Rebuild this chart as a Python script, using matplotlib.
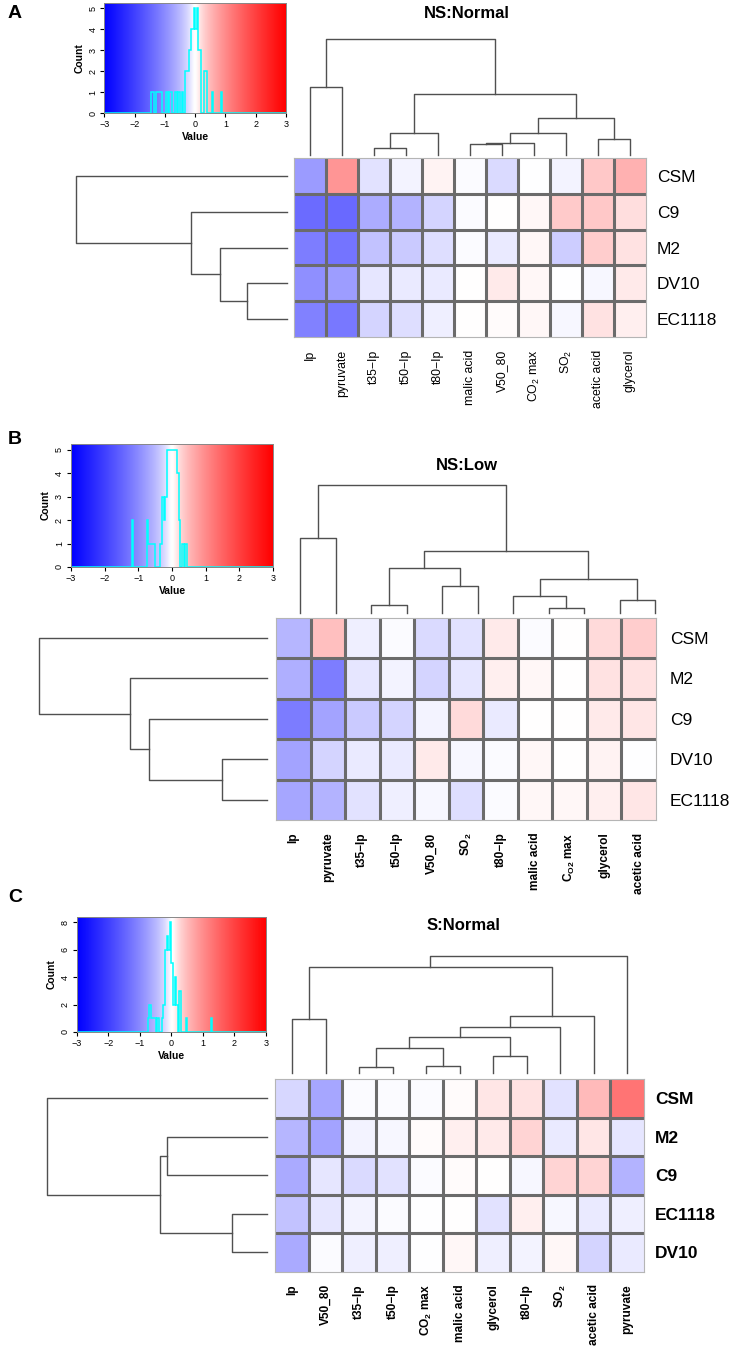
import numpy as np
import matplotlib.pyplot as plt
from matplotlib.colors import ListedColormap

plt.rcParams['font.family'] = ['Liberation Sans', 'DejaVu Sans']
plt.rcParams['mathtext.default'] = 'regular'

W, H = 737, 1350

# ---------------- panel A : NS:Normal ----------------
a_rows = ['CSM', 'C9', 'M2', 'DV10', 'EC1118']
a_cols = ['Ip', 'pyruvate', 't35\u2212Ip', 't50\u2212Ip', 't80\u2212Ip', 'malic acid',
          'V50_80', 'CO$_2$ max', 'SO$_2$', 'acetic acid', 'glycerol']
a_values = [
    [-0.805, 0.88, -0.17, -0.08, 0.08, -0.03, -0.22, -0.01, -0.09, 0.37, 0.57],
    [-1.395, -1.42, -0.62, -0.54, -0.27, -0.045, 0.02, 0.06, 0.34, 0.355, 0.195],
    [-1.155, -1.27, -0.42, -0.34, -0.19, -0.04, -0.13, 0.07, -0.31, 0.305, 0.185],
    [-0.94, -0.79, -0.16, -0.14, -0.12, 0.005, 0.13, 0.055, -0.02, -0.06, 0.14],
    [-1.105, -1.24, -0.26, -0.21, -0.11, 0.008, 0.03, 0.065, -0.07, 0.165, 0.11],
]
# merges: (left, right, height); ids >= n refer to earlier merges
a_col_merges = [(2, 3, 7.3), (5, 6, 10.7), (12, 7, 12.3), (9, 10, 15.7), (11, 4, 21.7),
                (13, 8, 22.3), (16, 14, 37.3), (15, 17, 60.7), (0, 1, 68.3), (19, 18, 115.7)]
a_row_merges = [(3, 4, 40.3), (2, 5, 67.0), (1, 6, 96.3), (0, 7, 211.0)]

# ---------------- panel B : NS:Low ----------------
b_rows = ['CSM', 'M2', 'C9', 'DV10', 'EC1118']
b_cols = ['Ip', 'pyruvate', 't35\u2212Ip', 't50\u2212Ip', 'V50_80', 'SO$_2$', 't80\u2212Ip',
          'malic acid', 'C$_{O2}$ max', 'glycerol', 'acetic acid']
b_values = [
    [-0.52, 0.44, -0.095, -0.045, -0.22, -0.17, 0.12, -0.04, 0.005, 0.23, 0.31],
    [-0.605, -1.155, -0.145, -0.08, -0.26, -0.16, 0.11, 0.07, 0.008, 0.185, 0.175],
    [-1.18, -0.72, -0.34, -0.27, -0.09, 0.22, -0.14, 0.015, 0.01, 0.14, 0.155],
    [-0.72, -0.28, -0.13, -0.12, 0.13, -0.06, -0.03, 0.055, 0.02, 0.08, -0.02],
    [-0.68, -0.56, -0.18, -0.11, -0.07, -0.21, -0.035, 0.06, 0.065, 0.105, 0.16],
]
b_col_merges = [(7, 8, 5.0), (2, 3, 8.3), (9, 10, 13.3), (6, 11, 17.3), (4, 5, 27.3),
                (14, 13, 34.0), (12, 15, 45.0), (17, 16, 62.3), (0, 1, 75.0), (19, 18, 128.3)]
b_row_merges = [(3, 4, 45.3), (2, 5, 118.3), (1, 6, 137.0), (0, 7, 228.0)]

# ---------------- panel C : S:Normal ----------------
c_rows = ['CSM', 'M2', 'C9', 'EC1118', 'DV10']
c_cols = ['Ip', 'V50_80', 't35\u2212Ip', 't50\u2212Ip', 'CO$_2$ max', 'malic acid',
          'glycerol', 't80\u2212Ip', 'SO$_2$', 'acetic acid', 'pyruvate']
c_values = [
    [-0.245, -0.68, -0.045, -0.03, -0.04, 0.045, 0.145, 0.185, -0.17, 0.47, 1.27],
    [-0.52, -0.72, -0.08, -0.07, 0.04, 0.105, 0.135, 0.26, -0.125, 0.16, -0.16],
    [-0.655, -0.16, -0.22, -0.17, -0.035, 0.03, 0.02, -0.055, 0.28, 0.26, -0.56],
    [-0.405, -0.155, -0.08, -0.045, -0.02, 0.02, -0.17, 0.105, -0.07, -0.125, -0.11],
    [-0.645, -0.03, -0.105, -0.105, -0.01, 0.06, -0.11, -0.08, 0.065, -0.27, -0.125],
]
c_col_merges = [(2, 3, 6.3), (4, 5, 7.0), (6, 7, 17.0), (11, 12, 24.7), (14, 13, 35.7),
                (15, 8, 46.3), (16, 9, 57.0), (0, 1, 53.7), (18, 17, 106.3), (19, 10, 117.3)]
c_row_merges = [(1, 2, 100.6), (3, 4, 35.3), (5, 6, 107.3), (0, 7, 220.6)]


def make_cmap(gamma=0.72, soft=0.03):
    # blue - white - red, with a wide white zone around zero
    t = np.linspace(-1, 1, 256)
    s = np.abs(t)
    f = s ** gamma * (1 - np.exp(-s / soft))
    f = f / f.max()
    rgb = np.ones((256, 3))
    neg = t < 0
    rgb[neg, 0] = 1 - f[neg]
    rgb[neg, 1] = 1 - f[neg]
    rgb[~neg, 1] = 1 - f[~neg]
    rgb[~neg, 2] = 1 - f[~neg]
    return ListedColormap(rgb)


CMAP = make_cmap()
LINE = '#505050'


def px_axes(fig, x0, y0, x1, y1):
    return fig.add_axes([x0 / W, 1 - y1 / H, (x1 - x0) / W, (y1 - y0) / H])


def dendro_segments(merges, n):
    pos = list(range(n))
    hts = [0.0] * n
    segs = []
    for a, b, h in merges:
        segs.append(([pos[a], pos[a], pos[b], pos[b]], [hts[a], h, h, hts[b]]))
        pos.append((pos[a] + pos[b]) / 2)
        hts.append(h)
    return segs


def color_key(ax, values):
    edges = np.linspace(-3, 3, 121)
    counts, _ = np.histogram(np.ravel(values), bins=edges)
    top = counts.max() * 1.05
    grad = np.linspace(-3, 3, 256).reshape(1, -1)
    ax.imshow(grad, cmap=CMAP, vmin=-3, vmax=3, extent=(-3, 3, 0, top), aspect='auto')
    ax.stairs(counts, edges, color='cyan', lw=1.1, clip_on=False)
    ax.set_xlim(-3, 3)
    ax.set_ylim(0, top)
    ax.set_xticks(range(-3, 4))
    ax.set_xticklabels([str(v).replace('-', '\u2212') for v in range(-3, 4)])
    step = 1 if counts.max() <= 6 else 2
    ax.set_yticks(np.arange(0, counts.max() + 1, step))
    ax.tick_params(labelsize=6.5, length=3, width=0.8, pad=2)
    for lab in ax.get_yticklabels():
        lab.set_rotation(90)
        lab.set_va('center')
    ax.set_xlabel('Value', fontsize=7.5, fontweight='bold', labelpad=2)
    ax.set_ylabel('Count', fontsize=7.5, fontweight='bold', labelpad=3)
    for s in ax.spines.values():
        s.set_color('#888888')
        s.set_linewidth(0.7)


def heatmap(ax, values, rows, cols, row_bold, col_bold, row_pad, col_pad, col_size):
    data = np.array(values)
    nr, nc = data.shape
    ax.imshow(data, cmap=CMAP, vmin=-3, vmax=3, aspect='auto', interpolation='nearest')
    for i in range(1, nc):
        ax.axvline(i - 0.5, color='#6b6b6b', lw=2.2)
    for j in range(1, nr):
        ax.axhline(j - 0.5, color='#6b6b6b', lw=2.2)
    ax.set_xticks(range(nc))
    ax.set_xticklabels(cols, rotation=90, fontsize=col_size,
                       fontweight='bold' if col_bold else 'normal', va='top')
    ax.yaxis.tick_right()
    ax.set_yticks(range(nr))
    ax.set_yticklabels(rows, fontsize=12.5, fontweight='bold' if row_bold else 'normal')
    ax.tick_params(axis='x', length=0, pad=col_pad)
    ax.tick_params(axis='y', length=0, pad=row_pad)
    for s in ax.spines.values():
        s.set_color('#b5b5b5')
        s.set_linewidth(0.8)


def col_dendro(ax, merges, n):
    for xs, ys in dendro_segments(merges, n):
        ax.plot(xs, ys, color=LINE, lw=1.0, clip_on=False)
    ax.set_xlim(-0.5, n - 0.5)
    ax.set_ylim(0, merges[-1][2])
    ax.axis('off')


def row_dendro(ax, merges, n):
    for xs, ys in dendro_segments(merges, n):
        ax.plot(ys, xs, color=LINE, lw=1.0, clip_on=False)
    ax.set_ylim(n - 0.5, -0.5)
    ax.set_xlim(merges[-1][2], 0)
    ax.axis('off')


panels = [
    dict(letter='A', title='NS:Normal', values=a_values, rows=a_rows, cols=a_cols,
         cm=a_col_merges, rm=a_row_merges, row_bold=False, col_bold=False, col_size=8.8,
         letter_xy=(8, 14), title_xy=(467, 14),
         key=(104.3, 3, 286, 113.3), heat=(294, 158, 646, 337),
         cden=(294, 39.3, 646, 155), rden=(76, 158, 287, 337), row_pad=8, col_pad=9),
    dict(letter='B', title='NS:Low', values=b_values, rows=b_rows, cols=b_cols,
         cm=b_col_merges, rm=b_row_merges, row_bold=False, col_bold=True, col_size=8.6,
         letter_xy=(8, 440), title_xy=(467, 465),
         key=(71, 444, 273, 567), heat=(276, 617.7, 656, 820),
         cden=(282.25, 485, 672.75, 613.3), rden=(39.3, 617.7, 267.3, 820), row_pad=10, col_pad=9),
    dict(letter='C', title='S:Normal', values=c_values, rows=c_rows, cols=c_cols,
         cm=c_col_merges, rm=c_row_merges, row_bold=True, col_bold=True, col_size=8.6,
         letter_xy=(8, 897), title_xy=(463, 925),
         key=(76.7, 916.7, 266, 1032), heat=(275.3, 1079, 644, 1271.7),
         cden=(275.3, 955.7, 644, 1073), rden=(46.7, 1079, 267.3, 1271.7), row_pad=8, col_pad=9),
]

fig = plt.figure(figsize=(W / 100, H / 100), dpi=100)

for p in panels:
    nr, nc = len(p['rows']), len(p['cols'])
    color_key(px_axes(fig, *p['key']), p['values'])
    heatmap(px_axes(fig, *p['heat']), p['values'], p['rows'], p['cols'],
            p['row_bold'], p['col_bold'], p['row_pad'], p['col_pad'], p['col_size'])
    col_dendro(px_axes(fig, *p['cden']), p['cm'], nc)
    row_dendro(px_axes(fig, *p['rden']), p['rm'], nr)
    lx, ly = p['letter_xy']
    fig.text(lx / W, 1 - ly / H, p['letter'], fontsize=14, fontweight='bold', va='center', ha='left')
    tx, ty = p['title_xy']
    fig.text(tx / W, 1 - ty / H, p['title'], fontsize=12, fontweight='bold', va='center', ha='center')

fig.savefig('out.png', dpi=100)
